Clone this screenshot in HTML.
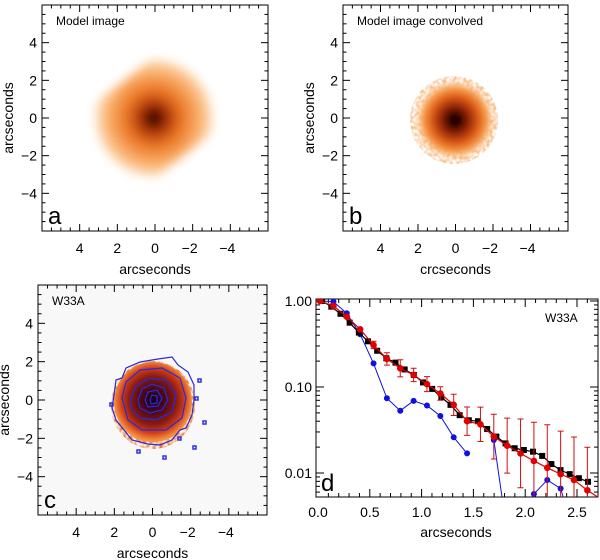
<!DOCTYPE html>
<html><head><meta charset="utf-8"><style>
html,body{margin:0;padding:0;background:#fff;}
svg{display:block;font-family:"Liberation Sans",sans-serif;}
</style></head><body>
<svg id="fig" width="600" height="560" viewBox="0 0 600 560">
<defs>
<filter id="blur3" x="-50%" y="-50%" width="200%" height="200%"><feGaussianBlur stdDeviation="2.5"/></filter>
<filter id="blur5" x="-50%" y="-50%" width="200%" height="200%"><feGaussianBlur stdDeviation="5"/></filter>
<filter id="speck" x="-30%" y="-30%" width="160%" height="160%">
<feTurbulence type="fractalNoise" baseFrequency="0.3" numOctaves="1" seed="3" result="n"/>
<feColorMatrix in="n" type="matrix" values="0 0 0 0 0  0 0 0 0 0  0 0 0 0 0  0 0 0 -2.5 1.7" result="m"/>
<feComposite in="SourceGraphic" in2="m" operator="in"/>
</filter>
<radialGradient id="gA" gradientUnits="userSpaceOnUse" cx="0" cy="0" r="62">
<stop offset="0" stop-color="#000"/><stop offset="0.06" stop-color="#3a0500"/><stop offset="0.2" stop-color="#a02c08"/>
<stop offset="0.42" stop-color="#e8701e"/><stop offset="0.68" stop-color="#f8a45a"/><stop offset="0.9" stop-color="#fcd4a8"/><stop offset="1" stop-color="#fff" stop-opacity="0"/></radialGradient>
<radialGradient id="gB" cx="50%" cy="50%" r="50%">
<stop offset="0" stop-color="#000"/><stop offset="0.15" stop-color="#3a0500"/><stop offset="0.4" stop-color="#a02c08"/>
<stop offset="0.65" stop-color="#e3661c"/><stop offset="0.85" stop-color="#f7a050"/><stop offset="1" stop-color="#fbc890" stop-opacity="0.3"/></radialGradient>
<radialGradient id="gC" cx="50%" cy="48%" r="50%">
<stop offset="0" stop-color="#10001a"/><stop offset="0.3" stop-color="#4a0818"/><stop offset="0.6" stop-color="#8a1a10"/>
<stop offset="0.82" stop-color="#d0401a"/><stop offset="1" stop-color="#f59040"/></radialGradient>
<clipPath id="clipD"><rect x="316" y="299" width="282" height="198"/></clipPath>
</defs>
<rect x="38" y="285" width="229" height="230" fill="#f8f8f8"/>
<!-- panel a image -->
<g>
<g transform="translate(154,118) rotate(-38)">
<rect x="-62" y="-48" width="124" height="96" rx="18" fill="url(#gA)" filter="url(#blur5)"/>
</g></g>
<!-- panel b image -->
<g>
<circle cx="454" cy="120" r="44" fill="#f7b070" opacity="0.8" filter="url(#speck)"/>
<circle cx="455" cy="120" r="38" fill="url(#gB)" filter="url(#blur3)"/>
</g>
<!-- panel c image -->
<g>
<ellipse cx="153" cy="405" rx="42" ry="44" fill="#f07a30" filter="url(#speck)"/>
<ellipse cx="153" cy="402" rx="39" ry="40" fill="url(#gC)"/>
<g fill="none" stroke="#2a2ad8" stroke-width="1.2">
<path d="M114,395 L116,380 L122,378 L126,368 L140,362 L158,359 L172,357 L178,365 L188,372 L194,385 L194,400 L192,415 L186,428 L180,430 L172,440 L160,445 L148,444 L132,440 L124,430 L116,420 L112,408 Z"/>
<path d="M122,398 L126,382 L140,370 L162,368 L180,378 L186,398 L182,418 L166,430 L142,430 L128,420 Z"/>
<path d="M130,400 L136,386 L150,378 L166,380 L176,394 L172,412 L156,420 L140,418 L132,410 Z"/>
<path d="M138,400 L142,389 L152,384 L164,388 L168,400 L162,410 L150,413 L140,408 Z"/>
<path d="M145,400 L148,392 L157,390 L162,398 L158,406 L148,407 Z"/>
<path d="M150,400 L152,395 L157,396 L157,403 L151,404 Z"/>
</g>
<g fill="none" stroke="#3030e0" stroke-width="1.5">
<rect x="198" y="379" width="3" height="3"/><rect x="203" y="421" width="3" height="3"/><rect x="193" y="446" width="3" height="3"/>
<rect x="163" y="456" width="3" height="3"/><rect x="137" y="450" width="3" height="3"/><rect x="110" y="403" width="3" height="3"/>
<rect x="195" y="397" width="3" height="3"/><rect x="178" y="437" width="3" height="3"/>
</g></g>
<g id="axesImg"></g>
<g id="panelD"></g>
</svg>
<script>
// ---- panel d data ----
const blackX0 = 0.04, blackDx = 0.0885;
const blackY = [1.0,0.86,0.71,0.56,0.43,0.34,0.264,0.216,0.192,0.160,0.138,0.113,0.095,0.076,0.062,0.047,0.041,0.040,0.0325,0.0265,0.0221,0.0194,0.0185,0.0177,0.0158,0.0127,0.0108,0.0097,0.0087,0.0079];
const redX0 = 0.02, redDx = 0.129;
const redY = [1.0,0.875,0.657,0.469,0.308,0.212,0.165,0.138,0.108,0.084,0.062,0.040,0.0368,0.0265,0.0208,0.0169,0.0138,0.0115,0.0097,0.0083,0.0063];
const redErrDex = [0,0,0,0.01,0.043,0.072,0.10,0.078,0.087,0.078,0.124,0.165,0.2,0.26,0.32,0.4,0.45,0.5,0.5,0.5,0.5];
const blueY = [1.0,0.98,0.72,0.41,0.188,0.074,0.053,0.069,0.061,0.046,0.026,0.0169,null,0.0242,0.002,0.003,0.0057,0.0083,0.0066,0.002];
const xTicksD = [0.0,0.5,1.0,1.5,2.0,2.5];
const xTickLabelsD = ["0.0","0.5","1.0","1.5","2.0","2.5"];
const yTicksD = [1.0,0.1,0.01];
const yTickLabelsD = ["1.00","0.10","0.01"];
// ---- image panel tick data ----
const imgTicks = [4,2,0,-2,-4];
const imgTickLabels = ["4","2","0","\u22122","\u22124"];

const NS="http://www.w3.org/2000/svg";
function mk(parent,tag,attrs,text){const e=document.createElementNS(NS,tag);for(const k in attrs)e.setAttribute(k,attrs[k]);if(text!==undefined)e.textContent=text;parent.appendChild(e);return e;}

const panels=[
 {id:"a",x0:42,x1:268,y0:5,y1:231,title:"Model image",letter:"a",xt:"arcseconds"},
 {id:"b",x0:343,x1:568,y0:5,y1:231,title:"Model image convolved",letter:"b",xt:"crcseconds"},
 {id:"c",x0:38,x1:267,y0:285,y1:515,title:"W33A",letter:"c",xt:"arcseconds"}];
const ga=document.getElementById("axesImg");
panels.forEach(p=>{
 const g=mk(ga,"g",{});
 
 
 const sx=v=>p.x0+(6-v)/12*(p.x1-p.x0);
 const sy=v=>p.y1-(v+6)/12*(p.y1-p.y0);
 mk(g,"rect",{x:p.x0,y:p.y0,width:p.x1-p.x0,height:p.y1-p.y0,fill:"none",stroke:"#000","stroke-width":1});
 for(let v=-5.5;v<=5.5;v+=0.5){
  const maj=Math.abs(v%2)<1e-6, L=maj?7:3.5;
  const X=sx(v),Y=sy(v);
  mk(g,"line",{x1:X,x2:X,y1:p.y1,y2:p.y1-L,stroke:"#000"});
  mk(g,"line",{x1:X,x2:X,y1:p.y0,y2:p.y0+L,stroke:"#000"});
  mk(g,"line",{x1:p.x0,x2:p.x0+L,y1:Y,y2:Y,stroke:"#000"});
  mk(g,"line",{x1:p.x1,x2:p.x1-L,y1:Y,y2:Y,stroke:"#000"});
 }
 imgTicks.forEach((v,i)=>{
  const t1=mk(g,"text",{x:sx(v)+(v<0?-3:0),y:p.y1+22,"font-size":14,"text-anchor":"middle"},imgTickLabels[i]);
  
  
  const t2=mk(g,"text",{x:p.x0-5,y:sy(v)+5,"font-size":14,"text-anchor":"end"},imgTickLabels[i]);
  
  
 });
 const xt=mk(g,"text",{x:(p.x0+p.x1)/2,y:p.y1+43,"font-size":14,"text-anchor":"middle"},p.xt);
 
 
 const cy=(p.y0+p.y1)/2;
 const yt=mk(g,"text",{x:0,y:0,"font-size":14,"text-anchor":"middle",transform:`translate(${p.x0-29},${cy}) rotate(-90)`},"arcseconds");
 
 
 const tt=mk(g,"text",{x:p.x0+14,y:p.y0+20,"font-size":12},p.title);
 
 
 const lt=mk(g,"text",{x:p.x0+6,y:p.y1-7,"font-size":24},p.letter);
 
 
});

// panel d
const gd=document.getElementById("panelD");
const dx0=316,dx1=598,dy0=299,dy1=497;
const xs=v=>318+v*103.6;
const ys=v=>301-Math.log10(v)*86;
const ax=mk(gd,"g",{});


mk(ax,"rect",{x:dx0,y:dy0,width:dx1-dx0,height:dy1-dy0,fill:"none",stroke:"#000"});
for(let v=0.1;v<2.7;v+=0.1){const X=xs(v);const maj=Math.abs(v*2-Math.round(v*2))<1e-6;const L=maj?8:4;
 mk(ax,"line",{x1:X,x2:X,y1:dy1,y2:dy1-L,stroke:"#000"});mk(ax,"line",{x1:X,x2:X,y1:dy0,y2:dy0+L,stroke:"#000"});}
[0.001,0.01,0.1,1].forEach(d=>{for(let m=1;m<10;m++){const v=d*m;const Y=ys(v);if(Y<dy0||Y>dy1)continue;const L=m==1?8:4;
 mk(ax,"line",{x1:dx0,x2:dx0+L,y1:Y,y2:Y,stroke:"#000"});mk(ax,"line",{x1:dx1,x2:dx1-L,y1:Y,y2:Y,stroke:"#000"});}});
xTicksD.forEach((v,i)=>{const t=mk(ax,"text",{x:xs(v),y:dy1+20,"font-size":14,"text-anchor":"middle"},xTickLabelsD[i]);
 
 });
yTicksD.forEach((v,i)=>{const t=mk(ax,"text",{x:dx0-4,y:ys(v)+5,"font-size":14,"text-anchor":"end"},yTickLabelsD[i]);
 
 });
const xtd=mk(ax,"text",{x:456,y:dy1+40,"font-size":14,"text-anchor":"middle"},"arcseconds");


const ttd=mk(ax,"text",{x:545,y:322,"font-size":12},"W33A");


const ltd=mk(ax,"text",{x:321,y:491,"font-size":24},"d");



const plot=mk(gd,"g",{"clip-path":"url(#clipD)"});
const bg=mk(plot,"g",{});


let seg=[];const segs=[];
blueY.forEach((v,i)=>{if(v===null){if(seg.length)segs.push(seg);seg=[];}else seg.push([xs(redX0+redDx*i),ys(v)]);});
if(seg.length)segs.push(seg);
segs.forEach(s=>mk(bg,"polyline",{points:s.map(p=>p.join(",")).join(" "),fill:"none",stroke:"#1010e0","stroke-width":1}));
blueY.forEach((v,i)=>{if(v===null)return;const c=mk(bg,"circle",{cx:xs(redX0+redDx*i),cy:ys(v),r:3,fill:"#1010e0"});
 
 });
const kg=mk(plot,"g",{});


mk(kg,"polyline",{points:blackY.map((v,i)=>xs(blackX0+blackDx*i)+","+ys(v)).join(" "),fill:"none",stroke:"#000","stroke-width":1.2});
blackY.forEach((v,i)=>{const r=mk(kg,"rect",{x:xs(blackX0+blackDx*i)-3,y:ys(v)-3,width:6,height:6,fill:"#000"});
 
 });
const rg=mk(plot,"g",{});


const rpts=redY.map((v,i)=>[xs(redX0+redDx*i),ys(v)]);
rpts.push([xs(2.75),ys(0.0048)]);
mk(rg,"polyline",{points:rpts.map(p=>p.join(",")).join(" "),fill:"none",stroke:"#e00000","stroke-width":1.2});
redY.forEach((v,i)=>{const X=xs(redX0+redDx*i),Y=ys(v);const e=redErrDex[i];
 if(e>0){const yt=ys(v*Math.pow(10,e)),yb=ys(v/Math.pow(10,e));
  const eb=mk(rg,"path",{d:`M${X},${yt}V${yb}M${X-3},${yt}H${X+3}M${X-3},${yb}H${X+3}`,stroke:"#d01010","stroke-width":1,fill:"none"});
  
  }
 const c=mk(rg,"circle",{cx:X,cy:Y,r:3.3,fill:"#e00000"});
 
 });
</script>
</body></html>
